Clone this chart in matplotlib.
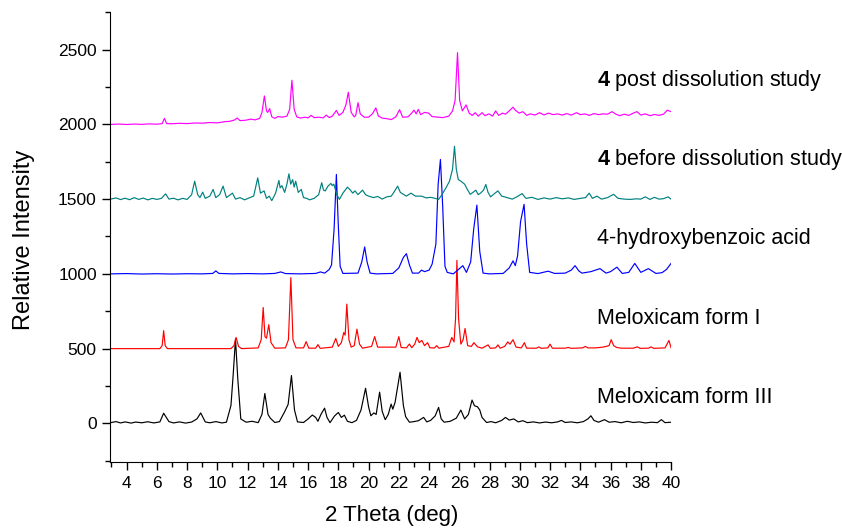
import matplotlib.pyplot as plt
from matplotlib.ticker import MultipleLocator

# (2theta, intensity) vertices, offsets already included
form3 = [(2.95, 5), (3.3, 12), (3.6, 3), (3.9, 10), (4.3, 2), (4.6, 9), (5.0, 4), (5.4, 11),
         (5.8, 3), (6.2, 10), (6.45, 68), (6.8, 12), (7.1, 3), (7.5, 10), (7.9, 2), (8.3, 9),
         (8.65, 30), (8.9, 70), (9.2, 10), (9.5, 4), (9.9, 12), (10.3, 3), (10.6, 8),
         (10.9, 120), (11.05, 330), (11.2, 565), (11.35, 300), (11.55, 30), (11.9, 8),
         (12.3, 14), (12.7, 5), (12.95, 60), (13.14, 200), (13.35, 60), (13.5, 35), (13.8, 6),
         (14.1, 12), (14.44, 76), (14.68, 127), (14.9, 320), (15.1, 90), (15.3, 10), (15.7, 6),
         (16.0, 30), (16.28, 56), (16.5, 40), (16.65, 14), (16.85, 60), (17.09, 102), (17.25, 40),
         (17.45, 5), (17.75, 50), (18.0, 73), (18.2, 40), (18.4, 55), (18.6, 14), (18.9, 5),
         (19.2, 20), (19.5, 90), (19.8, 235), (20.0, 110), (20.15, 51), (20.35, 70), (20.5, 60),
         (20.73, 209), (20.9, 80), (21.1, 25), (21.3, 60), (21.49, 129), (21.6, 95), (21.75, 140),
         (22.08, 342), (22.3, 120), (22.45, 45), (22.7, 8), (23.0, 12), (23.3, 18), (23.64, 40),
         (23.85, 10), (24.1, 20), (24.4, 50), (24.63, 107), (24.8, 30), (25.0, 8), (25.4, 14),
         (25.8, 35), (26.1, 89), (26.35, 30), (26.6, 60), (26.84, 156), (27.0, 118), (27.2, 111),
         (27.35, 90), (27.5, 40), (27.8, 6), (28.1, 12), (28.4, 4), (28.8, 20), (29.05, 40),
         (29.3, 22), (29.6, 30), (29.9, 10), (30.2, 18), (30.5, 5), (30.9, 10), (31.3, 3),
         (31.7, 9), (32.1, 4), (32.5, 10), (32.75, 20), (33.0, 6), (33.4, 10), (33.8, 4),
         (34.2, 12), (34.5, 30), (34.7, 51), (34.9, 20), (35.2, 8), (35.6, 25), (35.9, 8),
         (36.3, 12), (36.7, 4), (37.1, 14), (37.5, 6), (37.9, 10), (38.3, 3), (38.7, 8),
         (39.1, 5), (39.36, 25), (39.6, 5), (40.0, 8)]

form1 = [(2.95, 500), (6.2, 500), (6.35, 520), (6.45, 620), (6.55, 520), (6.7, 500), (10.9, 500),
         (11.1, 520), (11.24, 575), (11.4, 515), (11.6, 500), (12.7, 505), (12.9, 560),
         (13.03, 775), (13.15, 580), (13.25, 570), (13.4, 660), (13.55, 540), (13.8, 503),
         (14.5, 505), (14.7, 560), (14.86, 975), (15.0, 560), (15.2, 505), (15.7, 505), (15.87, 547),
         (16.05, 503), (16.5, 503), (16.65, 527), (16.8, 502), (17.6, 510), (17.83, 568),
         (18.0, 515), (18.2, 540), (18.36, 608), (18.45, 590), (18.56, 798), (18.7, 560),
         (18.85, 510), (19.05, 520), (19.23, 630), (19.4, 530), (19.6, 503), (20.2, 515),
         (20.4, 580), (20.6, 510), (21.8, 510), (22.0, 580), (22.15, 508), (22.5, 505),
         (22.7, 531), (22.85, 506), (23.05, 530), (23.2, 575), (23.35, 540), (23.52, 555),
         (23.7, 520), (23.9, 540), (24.05, 506), (24.35, 504), (24.5, 520), (24.65, 503),
         (25.3, 515), (25.5, 575), (25.65, 545), (25.75, 700), (25.84, 1090), (25.95, 700),
         (26.1, 530), (26.25, 560), (26.38, 635), (26.55, 520), (26.8, 515), (26.96, 540),
         (27.2, 512), (27.5, 503), (27.9, 525), (28.05, 502), (28.4, 505), (28.55, 525),
         (28.7, 503), (29.0, 515), (29.2, 545), (29.35, 530), (29.55, 560), (29.75, 510),
         (30.1, 505), (30.3, 540), (30.45, 503), (31.1, 503), (31.26, 512), (31.4, 502),
         (31.85, 505), (32.0, 530), (32.15, 503), (33.0, 503), (33.2, 508), (33.4, 502),
         (34.15, 505), (34.33, 515), (34.5, 505), (35.0, 505), (35.5, 510), (35.9, 520),
         (36.04, 560), (36.2, 520), (36.4, 508), (36.7, 503), (37.5, 503), (37.77, 512),
         (37.95, 502), (38.5, 503), (38.68, 512), (38.85, 502), (39.6, 505), (39.86, 555),
         (40.0, 505)]

hba = [(2.95, 1000), (4.0, 1002), (5.0, 999), (6.0, 1001), (7.0, 999), (8.0, 1001), (9.0, 1000),
       (9.7, 1003), (9.9, 1020), (10.1, 1003), (11.0, 1000), (12.0, 1002), (13.0, 1000),
       (13.8, 1003), (14.2, 1013), (14.5, 1002), (15.5, 1000), (16.5, 1003), (16.82, 1013),
       (17.1, 1005), (17.4, 1030), (17.55, 1060), (17.72, 1300), (17.87, 1665), (18.0, 1320),
       (18.12, 1050), (18.3, 1003), (19.3, 1005), (19.55, 1080), (19.74, 1180), (19.9, 1080),
       (20.1, 1005), (20.5, 1000), (21.6, 1003), (22.0, 1040), (22.3, 1110), (22.5, 1135),
       (22.7, 1060), (22.9, 1005), (23.3, 1005), (23.5, 1025), (23.7, 1015), (24.0, 1025),
       (24.2, 1065), (24.45, 1200), (24.6, 1600), (24.75, 1765), (24.9, 1450), (25.05, 1050),
       (25.2, 1010), (25.6, 1000), (25.95, 1030), (26.23, 1055), (26.47, 1010), (26.75, 1080),
       (26.95, 1300), (27.16, 1460), (27.35, 1150), (27.57, 1005), (28.0, 1000), (28.9, 1003),
       (29.3, 1040), (29.55, 1087), (29.7, 1055), (29.85, 1120), (30.05, 1350), (30.28, 1465),
       (30.45, 1200), (30.65, 1010), (31.2, 1002), (31.87, 1018), (32.3, 1003), (33.0, 1005),
       (33.4, 1025), (33.65, 1055), (33.9, 1020), (34.1, 1005), (34.7, 1015), (35.0, 1025),
       (35.3, 1035), (35.7, 1005), (36.0, 1015), (36.42, 1045), (36.77, 1003), (37.2, 1010),
       (37.6, 1070), (38.0, 1010), (38.5, 1035), (39.0, 1003), (39.4, 1008), (39.7, 1030),
       (40.0, 1070)]

before = [(2.95, 1500), (3.3, 1508), (3.6, 1497), (3.9, 1506), (4.2, 1496), (4.5, 1510), (4.8, 1498),
          (5.1, 1507), (5.4, 1495), (5.7, 1505), (6.0, 1498), (6.3, 1505), (6.58, 1535), (6.8, 1500),
          (7.1, 1506), (7.4, 1495), (7.7, 1505), (8.0, 1498), (8.3, 1530), (8.5, 1620), (8.7, 1530),
          (8.85, 1510), (9.03, 1547), (9.2, 1505), (9.5, 1520), (9.72, 1565), (9.9, 1510),
          (10.15, 1530), (10.38, 1587), (10.6, 1510), (10.8, 1525), (11.0, 1540), (11.2, 1500),
          (11.5, 1510), (11.8, 1495), (12.1, 1508), (12.4, 1520), (12.67, 1642), (12.85, 1540),
          (13.09, 1555), (13.25, 1505), (13.43, 1520), (13.6, 1490), (13.85, 1540), (14.07, 1625),
          (14.15, 1575), (14.27, 1590), (14.45, 1545), (14.6, 1600), (14.73, 1669), (14.85, 1600),
          (14.98, 1630), (15.08, 1580), (15.18, 1620), (15.35, 1545), (15.55, 1565), (15.7, 1510),
          (15.91, 1505), (16.1, 1495), (16.4, 1505), (16.7, 1530), (16.9, 1610), (17.02, 1560),
          (17.14, 1555), (17.3, 1585), (17.51, 1605), (17.6, 1590), (17.7, 1600), (17.9, 1530),
          (18.07, 1498), (18.3, 1540), (18.6, 1580), (18.8, 1560), (18.95, 1540), (19.1, 1555),
          (19.3, 1530), (19.45, 1545), (19.6, 1560), (19.8, 1530), (20.0, 1520), (20.33, 1510),
          (20.6, 1518), (20.9, 1500), (21.2, 1515), (21.5, 1520), (21.7, 1550), (21.92, 1587),
          (22.1, 1545), (22.3, 1532), (22.5, 1520), (22.8, 1540), (23.1, 1520), (23.5, 1520),
          (23.8, 1508), (24.1, 1512), (24.4, 1505), (24.63, 1498), (24.85, 1530), (25.13, 1578),
          (25.35, 1620), (25.55, 1700), (25.68, 1853), (25.8, 1700), (25.93, 1631), (26.1, 1620),
          (26.35, 1600), (26.5, 1570), (26.72, 1532), (26.9, 1545), (27.09, 1560), (27.25, 1530),
          (27.4, 1540), (27.6, 1560), (27.75, 1598), (27.9, 1545), (28.07, 1515), (28.3, 1535),
          (28.55, 1555), (28.8, 1520), (29.17, 1510), (29.5, 1500), (29.8, 1515), (30.15, 1537),
          (30.4, 1505), (30.8, 1512), (31.2, 1498), (31.6, 1508), (32.0, 1500), (32.4, 1510),
          (32.8, 1502), (33.2, 1508), (33.6, 1498), (34.0, 1505), (34.35, 1510), (34.58, 1540),
          (34.8, 1505), (35.1, 1520), (35.4, 1500), (35.8, 1510), (36.2, 1532), (36.5, 1505),
          (36.9, 1500), (37.3, 1498), (37.7, 1502), (38.0, 1500), (38.3, 1515), (38.6, 1498),
          (38.9, 1512), (39.2, 1500), (39.5, 1503), (39.8, 1515), (40.0, 1500)]

post = [(2.95, 2000), (3.5, 2002), (4.0, 1999), (4.5, 2002), (5.0, 2000), (5.5, 2003), (6.0, 2001),
        (6.35, 2005), (6.5, 2040), (6.65, 2005), (7.0, 2004), (7.5, 2007), (8.0, 2005), (8.5, 2009),
        (9.0, 2008), (9.5, 2012), (10.0, 2010), (10.5, 2018), (10.8, 2020), (11.1, 2028),
        (11.32, 2042), (11.5, 2025), (11.9, 2028), (12.2, 2035), (12.5, 2030), (12.8, 2040),
        (12.95, 2080), (13.11, 2190), (13.25, 2090), (13.33, 2080), (13.46, 2105), (13.6, 2050),
        (13.8, 2040), (14.0, 2052), (14.3, 2048), (14.6, 2055), (14.78, 2100), (14.93, 2295),
        (15.08, 2100), (15.25, 2050), (15.5, 2042), (15.8, 2048), (16.0, 2043), (16.2, 2060),
        (16.4, 2045), (16.7, 2048), (17.0, 2043), (17.2, 2062), (17.4, 2045), (17.6, 2055),
        (17.87, 2093), (18.05, 2060), (18.3, 2080), (18.5, 2130), (18.66, 2215), (18.85, 2080),
        (19.05, 2050), (19.15, 2060), (19.3, 2145), (19.45, 2070), (19.7, 2048), (20.0, 2048),
        (20.25, 2070), (20.48, 2110), (20.65, 2055), (20.9, 2042), (21.2, 2038), (21.5, 2032),
        (21.8, 2050), (22.05, 2098), (22.25, 2048), (22.6, 2050), (22.85, 2075), (23.0, 2095),
        (23.15, 2070), (23.28, 2100), (23.45, 2065), (23.7, 2080), (23.97, 2075), (24.2, 2052),
        (24.6, 2048), (24.9, 2045), (25.3, 2055), (25.55, 2090), (25.72, 2160), (25.88, 2480),
        (26.02, 2160), (26.2, 2090), (26.45, 2130), (26.65, 2075), (26.85, 2060), (27.05, 2078),
        (27.25, 2055), (27.5, 2078), (27.7, 2058), (27.95, 2070), (28.2, 2055), (28.4, 2090),
        (28.6, 2060), (28.85, 2075), (29.05, 2068), (29.3, 2090), (29.55, 2115), (29.7, 2095),
        (29.95, 2075), (30.2, 2085), (30.45, 2060), (30.7, 2070), (31.0, 2062), (31.3, 2078),
        (31.6, 2063), (31.9, 2075), (32.2, 2065), (32.5, 2070), (32.8, 2062), (33.1, 2072),
        (33.4, 2062), (33.75, 2078), (34.0, 2065), (34.3, 2070), (34.6, 2060), (34.9, 2072),
        (35.2, 2065), (35.5, 2070), (35.8, 2068), (36.1, 2085), (36.35, 2068), (36.6, 2058),
        (36.9, 2068), (37.2, 2060), (37.5, 2075), (37.75, 2085), (38.0, 2062), (38.3, 2070),
        (38.6, 2058), (38.9, 2066), (39.2, 2060), (39.5, 2068), (39.75, 2095), (40.0, 2085)]

traces = [form3, form1, hba, before, post]
colors = ['black', '#ff0000', '#0000ff', '#008080', '#ff00ff']
names = ['Meloxicam form III', 'Meloxicam form I', '4-hydroxybenzoic acid',
         r'$\mathbf{4}$ before dissolution study', r'$\mathbf{4}$ post dissolution study']
label_y = [175, 700, 1235, 1768, 2292]

plt.rcParams['font.family'] = ['Liberation Sans', 'DejaVu Sans']
plt.rcParams['mathtext.fontset'] = 'custom'
plt.rcParams['mathtext.bf'] = 'Liberation Sans:bold'

fig = plt.figure(figsize=(8.42, 5.31), dpi=100)
ax = fig.add_axes([0.1306, 0.130, 0.797 - 0.1306, 0.977 - 0.130])

for data, c, name, ly in zip(traces, colors, names, label_y):
    xs = [p[0] for p in data]
    ys = [p[1] for p in data]
    ax.plot(xs, ys, color=c, lw=0.85)
    ax.text(35.1, ly, name, fontsize=15.5, va='center', ha='left', clip_on=False)

ax.set_xlim(2.9, 40)
ax.set_ylim(-258, 2750)
ax.spines['top'].set_visible(False)
ax.spines['right'].set_visible(False)
ax.xaxis.set_major_locator(MultipleLocator(2))
ax.xaxis.set_minor_locator(MultipleLocator(1))
ax.yaxis.set_major_locator(MultipleLocator(500))
ax.yaxis.set_minor_locator(MultipleLocator(250))
ax.set_xticks(range(4, 41, 2))
ax.tick_params(which='major', length=6, width=1)
ax.tick_params(which='minor', length=3.5, width=1)
ax.tick_params(axis='y', labelsize=12.5)
ax.tick_params(axis='x', labelsize=12.5, pad=4)

fig.text(0.465, 0.030, '2 Theta (deg)', fontsize=16, ha='center', va='center')
fig.text(0.029, 0.548, 'Relative Intensity', fontsize=17, ha='center', va='center', rotation=90)

fig.savefig('out.png', dpi=100)
